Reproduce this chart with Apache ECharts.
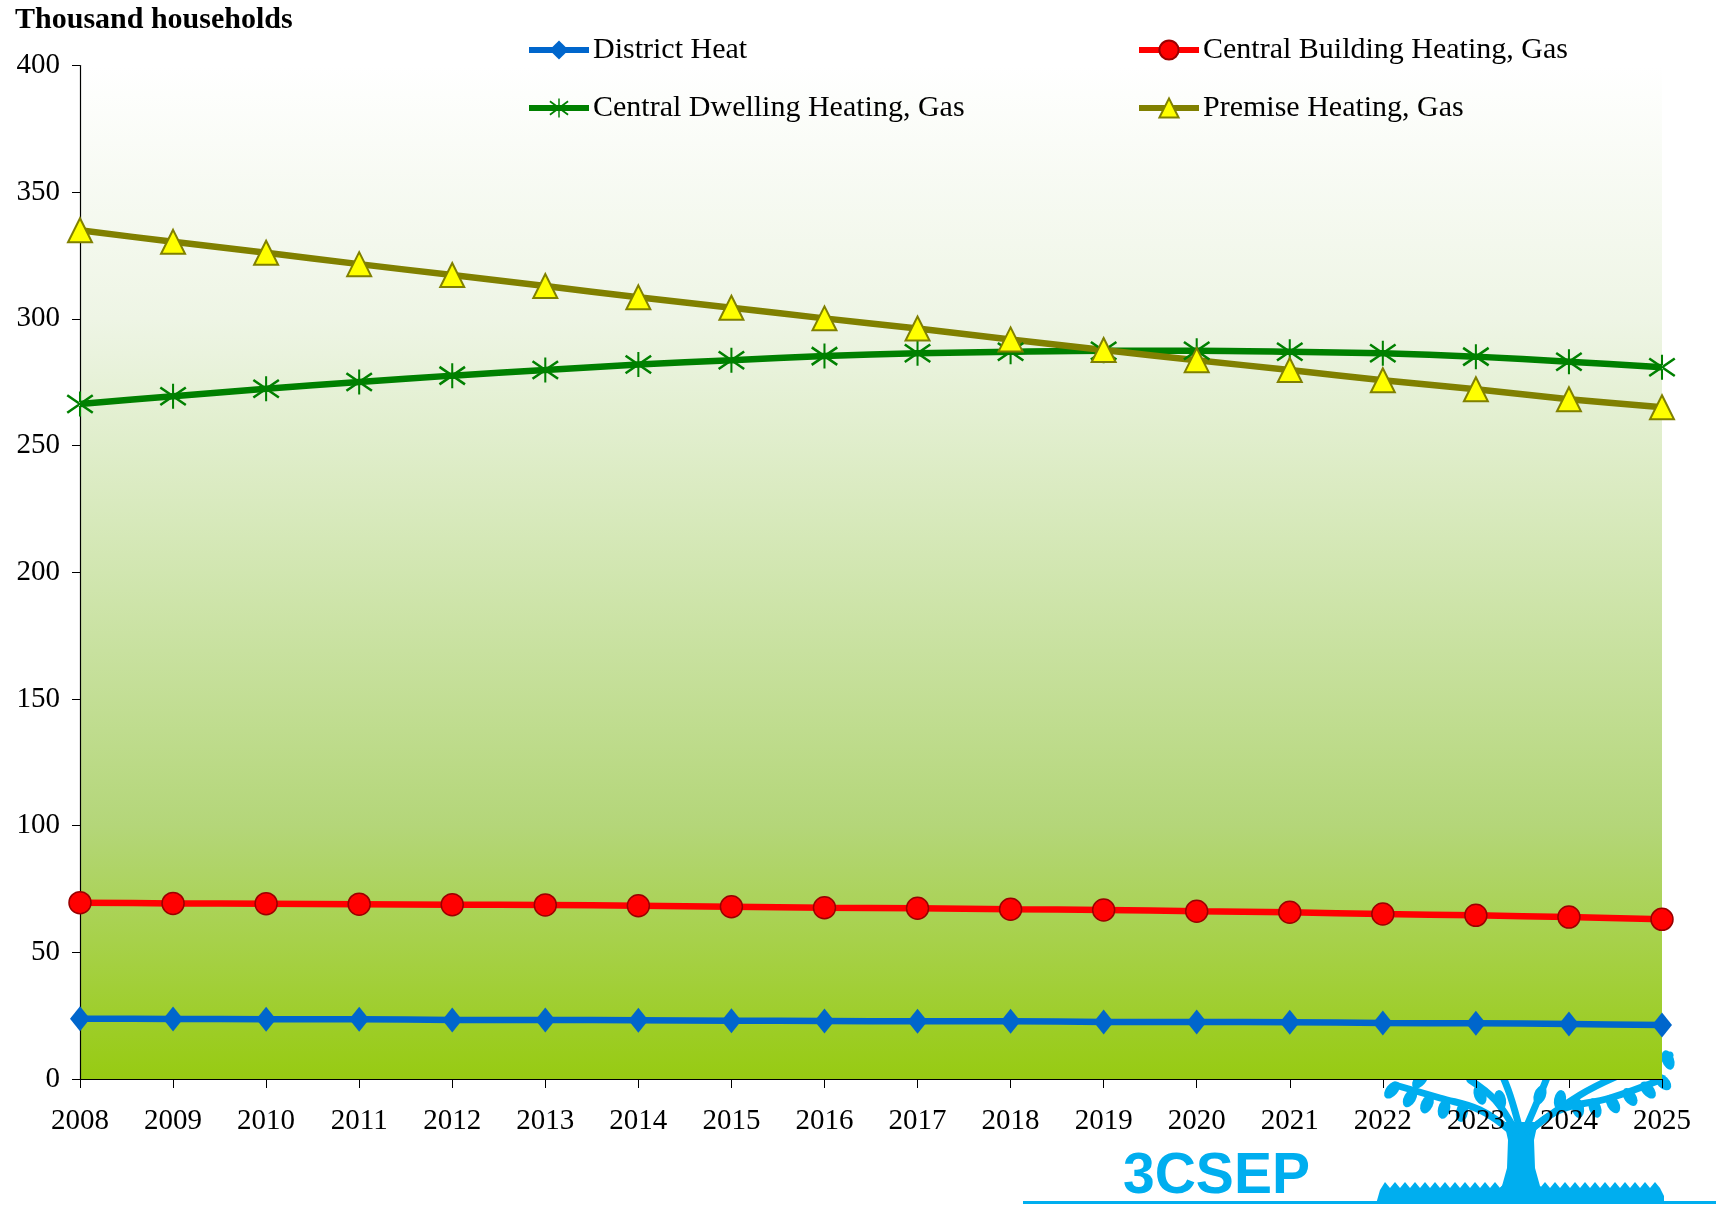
<!DOCTYPE html>
<html>
<head>
<meta charset="utf-8">
<script src="https://cdn.jsdelivr.net/npm/echarts@6/dist/echarts.min.js"></script>
<style>html,body{margin:0;padding:0;background:#fff}#c{width:1716px;height:1207px}</style>
</head>
<body>
<div id="c"></div>
<script>
const years = ['2008','2009','2010','2011','2012','2013','2014','2015','2016','2017','2018','2019','2020','2021','2022','2023','2024','2025'];
const districtHeat = [23.8,23.7,23.6,23.6,23.3,23.3,23.2,23.0,22.9,22.8,22.8,22.5,22.5,22.4,22.1,22.0,21.7,21.3];
const centralBuilding = [69.6,69.3,69.2,69.0,68.8,68.7,68.4,68.0,67.6,67.4,67.0,66.7,66.2,65.8,65.1,64.6,63.9,63.0];
const centralDwelling = [266.4,269.5,272.4,275.1,277.6,279.8,282.0,283.7,285.3,286.4,287.0,287.4,287.4,287.0,286.4,285.1,283.1,280.9];
const premise = [335.0,330.4,326.1,321.6,317.3,313.0,308.5,304.4,300.2,296.2,291.9,287.7,283.7,279.8,275.8,272.2,268.3,265.1];
const seriesNames = ['District Heat','Central Building Heating, Gas','Central Dwelling Heating, Gas','Premise Heating, Gas'];

const FONT = 'Liberation Serif';
const asterisk = 'path://M9.2,0 L10.8,0 L10.8,20 L9.2,20 Z M-0.574,3.819 L19.426,17.819 L20.574,16.181 L0.574,2.181 Z M0.574,17.819 L20.574,3.819 L19.426,2.181 L-0.574,16.181 Z';

// logo decoration (tree)
const logoBlue = '#00AEEF';
function grassPoints() {
  const pts = [[1376,1204],[1380,1190]];
  let x = 1380, up = true;
  while (x < 1660) {
    x += 5;
    pts.push([x, up ? 1182 : 1188]);
    up = !up;
  }
  pts.push([1664,1196],[1664,1204]);
  return pts;
}
const leaves = [
  [1392,1090,-40],[1410,1098,-30],[1427,1104,-25],[1444,1109,-15],[1462,1112,-10],
  [1400,1070,-50],[1420,1080,-40],[1480,1095,20],[1500,1100,10],
  [1560,1100,-10],[1578,1108,10],[1595,1108,20],[1613,1104,30],[1630,1097,35],[1648,1090,40],[1663,1082,45],
  [1668,1060,20],[1645,1070,30],[1540,1095,-20]
];
const graphics = [];
graphics.push({type:'polygon', z:-10, shape:{points: grassPoints()}, style:{fill:logoBlue}});
graphics.push({type:'polygon', z:-10, shape:{points:[[1490,1196],[1502,1186],[1507,1168],[1508,1140],[1504,1122],[1538,1122],[1534,1140],[1535,1168],[1540,1186],[1554,1196]]}, style:{fill:logoBlue}});
const branches = [
  [[1512,1132],[1480,1110],[1440,1098],[1395,1085]],
  [[1515,1130],[1495,1100],[1470,1080]],
  [[1520,1130],[1510,1095],[1500,1070]],
  [[1525,1130],[1540,1095],[1550,1070]],
  [[1528,1132],[1560,1110],[1610,1098],[1660,1080]],
  [[1530,1130],[1580,1095],[1620,1075],[1670,1055]]
];
branches.forEach(b => graphics.push({type:'polyline', z:-10, shape:{points:b, smooth:0.4}, style:{stroke:logoBlue, lineWidth:7, fill:null, lineCap:'round'}}));
leaves.forEach(l => graphics.push({type:'circle', z:-10, x:l[0], y:l[1], scaleX:0.6, rotation:l[2]*Math.PI/180, shape:{cx:0, cy:0, r:10}, style:{fill:logoBlue}}));
graphics.push({type:'rect', z:-10, shape:{x:1023, y:1201, width:693, height:3}, style:{fill:logoBlue}});
graphics.push({type:'text', z:5, x:1123, y:1177, style:{text:'3CSEP', fill:logoBlue, font:'bold 57px "Liberation Sans"', textVerticalAlign:'middle'}});

function legendAt(name, left, top) {
  return {data:[name], left:left, top:top, orient:'horizontal', itemWidth:60, itemHeight:24, padding:0, itemGap:0,
    lineStyle:{width:6},
    textStyle:{fontFamily:FONT, fontSize:30, color:'#000', padding:[0,0,0,-1]}};
}

const chart = echarts.init(document.getElementById('c'), null, {renderer:'canvas'});
chart.setOption({
  animation:false,
  backgroundColor:'#ffffff',
  title:{text:'Thousand households', left:15, top:5, padding:0,
    textStyle:{fontFamily:FONT, fontWeight:'bold', fontSize:30, color:'#000'}},
  legend:[
    legendAt(seriesNames[0], 526, 35),
    legendAt(seriesNames[1], 1136, 35),
    legendAt(seriesNames[2], 526, 93),
    legendAt(seriesNames[3], 1136, 93)
  ],
  graphic: graphics,
  grid:{left:80, right:54, top:65.5, bottom:128, show:true, borderWidth:0, z:0,
    backgroundColor:{type:'linear', x:0, y:0, x2:0, y2:1, colorStops:[
      {offset:0, color:'#ffffff'},{offset:0.25, color:'#eef5e5'},{offset:0.5, color:'#d1e6b0'},
      {offset:0.75, color:'#b4d679'},{offset:1, color:'#97cb12'}]}},
  xAxis:{type:'category', data:years, boundaryGap:false,
    axisLine:{lineStyle:{color:'#000', width:1.2}},
    axisTick:{show:true, length:9, alignWithLabel:true, lineStyle:{color:'#000'}},
    axisLabel:{fontFamily:FONT, fontSize:29, color:'#000', margin:28},
    splitLine:{show:false}},
  yAxis:{type:'value', min:0, max:400, interval:50,
    axisLine:{show:true, lineStyle:{color:'#000', width:1.2}},
    axisTick:{show:true, length:8, lineStyle:{color:'#000'}},
    axisLabel:{fontFamily:FONT, fontSize:29, color:'#000', margin:20},
    splitLine:{show:false}},
  series:[
    {name:seriesNames[0], type:'line', data:districtHeat, smooth:0.3, symbol:'diamond', symbolSize:[20,25],
      lineStyle:{color:'#0066CC', width:6.5}, itemStyle:{color:'#0066CC', borderWidth:0}},
    {name:seriesNames[1], type:'line', data:centralBuilding, smooth:0.3, symbol:'circle', symbolSize:22,
      lineStyle:{color:'#FF0000', width:6.5}, itemStyle:{color:'#FF0000', borderColor:'#990000', borderWidth:1.5}},
    {name:seriesNames[2], type:'line', data:centralDwelling, smooth:0.3, symbol:asterisk, symbolSize:[27,25],
      lineStyle:{color:'#008000', width:6.5}, itemStyle:{color:'#008000', borderWidth:0}},
    {name:seriesNames[3], type:'line', data:premise, smooth:0.3, symbol:'triangle', symbolSize:[24,24],
      lineStyle:{color:'#808000', width:6.5}, itemStyle:{color:'#FFFF00', borderColor:'#808000', borderWidth:2}}
  ]
});
</script>
</body>
</html>
